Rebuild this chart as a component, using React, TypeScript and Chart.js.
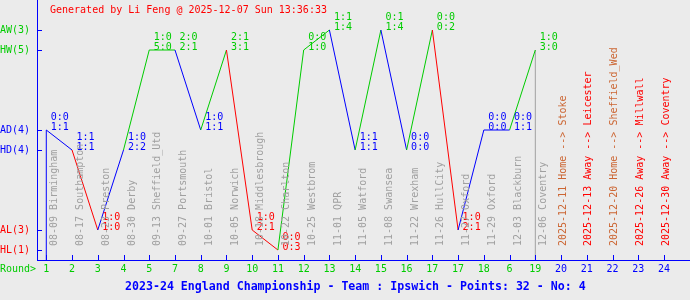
import React, { useEffect, useRef } from "react";
import { Chart, registerables } from "chart.js";
Chart.register(...registerables);

// ---- data ----
const results = ["AD", "HD", "AL", "HD", "HW", "HW", "AD", "HW", "AL", "HL", "HW", "AW", "HD", "AW", "HD", "AW", "AL", "AD", "AD", "HW"];
const halfTime = ["0:0", "1:1", "1:0", "1:0", "1:0", "2:0", "1:0", "2:1", "1:0", "0:0", "0:0", "1:1", "1:1", "0:1", "0:0", "0:0", "1:0", "0:0", "0:0", "1:0"];
const fullTime = ["1:1", "1:1", "1:0", "2:2", "5:0", "2:1", "1:1", "3:1", "2:1", "0:3", "1:0", "1:4", "1:1", "1:4", "0:0", "0:2", "2:1", "0:0", "1:1", "3:0"];
const matchDates = ["08-09", "08-17", "08-23", "08-30", "09-13", "09-27", "10-01", "10-05", "10-18", "10-22", "10-25", "11-01", "11-05", "11-08", "11-22", "11-26", "11-27", "11-29", "12-03", "12-06"];
const opponents = ["Birmingham", "Southampton", "Preston", "Derby", "Sheffield_Utd", "Portsmouth", "Bristol", "Norwich", "Middlesbrough", "Charlton", "Westbrom", "QPR", "Watford", "Swansea", "Wrexham", "HullCity", "Oxford", "Oxford", "Blackburn", "Coventry"];
const roundLabels = ["1", "2", "3", "4", "5", "7", "8", "9", "10", "11", "12", "13", "14", "15", "16", "17", "17", "18", "6", "19", "20", "21", "22", "23", "24"];
const futureDates = ["2025-12-11", "2025-12-13", "2025-12-20", "2025-12-26", "2025-12-30"];
const futureVenues = ["Home", "Away", "Home", "Away", "Away"];
const futureOpponents = ["Stoke", "Leicester", "Sheffield_Wed", "Millwall", "Coventry"];
const levelKeys = ["HL", "AL", "HD", "AD", "HW", "AW"];
const levelValues = [0, 1, 5, 6, 10, 11];
const titleText = "2023-24 England Championship - Team : Ipswich - Points: 32 - No: 4";
const generatedText = "Generated by Li Feng @ 2025-12-07 Sun 13:36:33";

const GREEN = "#00cc00";
const BLUE = "#0000ff";
const RED = "#ff0000";
const GRAY = "#a0a0a0";
const SIENNA = "#cc6633";
const BG = "#ebebeb";
const MONO = '"DejaVu Sans Mono", monospace';

const levelOf = (r: string) => levelValues[levelKeys.indexOf(r)];
const colorOf = (r: string) => (r[1] === "W" ? GREEN : r[1] === "D" ? BLUE : RED);
const yTickLabels = levelKeys.map((k) => `${k}(${results.filter((r) => r === k).length})`);

export default function App() {
  const ref = useRef<HTMLCanvasElement | null>(null);
  useEffect(() => {
    if (!ref.current) return;
    const played = results.length;
    const mainData = results.map((r, i) => ({ x: i, y: levelOf(r) }));
    const overlay = {
      id: "overlay",
      beforeDraw(chart: any) {
        const c = chart.ctx;
        c.save();
        c.fillStyle = BG;
        c.fillRect(0, 0, chart.width, chart.height);
        c.restore();
      },
      afterDraw(chart: any) {
        const c = chart.ctx;
        const xs = chart.scales.x;
        const ys = chart.scales.y;
        const area = chart.chartArea;
        c.save();
        // tick marks (inward)
        c.strokeStyle = BLUE;
        c.lineWidth = 1;
        levelValues.forEach((v) => {
          const py = Math.round(ys.getPixelForValue(v)) + 0.5;
          c.beginPath();
          c.moveTo(area.left, py);
          c.lineTo(area.left + 5, py);
          c.stroke();
        });
        roundLabels.forEach((_, i) => {
          const px = Math.round(xs.getPixelForValue(i)) + 0.5;
          c.beginPath();
          c.moveTo(px, area.bottom - 5);
          c.lineTo(px, area.bottom);
          c.stroke();
        });
        c.font = `10px ${MONO}`;
        c.textBaseline = "middle";
        c.textAlign = "left";
        // generated text
        c.fillStyle = RED;
        c.fillText(generatedText, 50, 10);
        // Round>
        c.fillStyle = GREEN;
        c.fillText("Round>", 0, 269.5);
        // score labels
        results.forEach((r, i) => {
          const px = xs.getPixelForValue(i);
          const py = ys.getPixelForValue(levelOf(r));
          c.fillStyle = colorOf(r);
          c.fillText(halfTime[i], px + 4.5, py - 13);
          c.fillText(fullTime[i], px + 4.5, py - 3);
        });
        // rotated date labels
        const drawUp = (text: string, x: number, color: string) => {
          c.save();
          c.translate(x, 246);
          c.rotate(-Math.PI / 2);
          c.fillStyle = color;
          c.textAlign = "left";
          c.textBaseline = "middle";
          c.fillText(text, 0, 0);
          c.restore();
        };
        matchDates.forEach((d, i) => {
          drawUp(`${d} ${opponents[i]}`, xs.getPixelForValue(i) + 8.5, GRAY);
        });
        futureDates.forEach((d, j) => {
          const i = played + j;
          drawUp(
            `${d} ${futureVenues[j]} --> ${futureOpponents[j]}`,
            xs.getPixelForValue(i) + 2,
            futureVenues[j] === "Home" ? SIENNA : RED
          );
        });
        // title
        c.font = `bold 11.6px ${MONO}`;
        c.fillStyle = BLUE;
        c.fillText(titleText, 125, 287);
        c.restore();
      },
    };

    const chart = new Chart(ref.current, {
      type: "line",
      data: {
        datasets: [
          {
            data: mainData,
            borderWidth: 1,
            pointRadius: 0,
            borderColor: BLUE,
            segment: {
              borderColor: (ctx: any) => colorOf(results[ctx.p1DataIndex]),
            },
          },
          {
            data: [
              { x: 0, y: -0.5 },
              { x: 0, y: levelOf(results[0]) },
            ],
            borderWidth: 1,
            pointRadius: 0,
            borderColor: BLUE,
          },
          {
            data: [
              { x: played - 1, y: -0.5 },
              { x: played - 1, y: levelOf(results[played - 1]) },
            ],
            borderWidth: 1,
            pointRadius: 0,
            borderColor: GRAY,
          },
        ] as any,
      },
      plugins: [overlay],
      options: {
        animation: false,
        responsive: false,
        maintainAspectRatio: false,
        layout: { padding: 0 },
        plugins: { legend: { display: false }, tooltip: { enabled: false } },
        scales: {
          x: {
            type: "linear",
            min: -0.361,
            max: 25.01,
            afterBuildTicks: (s: any) => {
              s.ticks = roundLabels.map((_, i) => ({ value: i }));
            },
            afterFit: (s: any) => {
              s.height = 40;
              s.paddingLeft = 0;
              s.paddingRight = 0;
            },
            grid: { drawOnChartArea: false, drawTicks: false },
            border: { display: true, color: BLUE, width: 1 },
            ticks: {
              autoSkip: false,
              maxRotation: 0,
              padding: 3,
              font: { family: MONO, size: 10 },
              color: (ctx: any) => (ctx.index < results.length ? GREEN : BLUE),
              callback: (_v: any, i: number) => roundLabels[i],
            },
          },
          y: {
            type: "linear",
            min: -0.5,
            max: 12.5,
            afterBuildTicks: (s: any) => {
              s.ticks = levelValues.map((v) => ({ value: v }));
            },
            afterFit: (s: any) => {
              s.width = 37;
              s.paddingTop = 0;
              s.paddingBottom = 0;
            },
            grid: { drawOnChartArea: false, drawTicks: false },
            border: { display: true, color: BLUE, width: 1 },
            ticks: {
              autoSkip: false,
              padding: 7,
              font: { family: MONO, size: 10 },
              color: (ctx: any) => (ctx.index < 2 ? RED : ctx.index < 4 ? BLUE : GREEN),
              callback: (_v: any, i: number) => yTickLabels[i],
            },
          },
        },
      } as any,
    });
    return () => chart.destroy();
  }, []);
  return (
    <div style={{ position: "fixed", left: 0, top: 0, width: 690, height: 300, background: BG }}>
      <canvas ref={ref} width={690} height={300} style={{ width: 690, height: 300 }} />
    </div>
  );
}
